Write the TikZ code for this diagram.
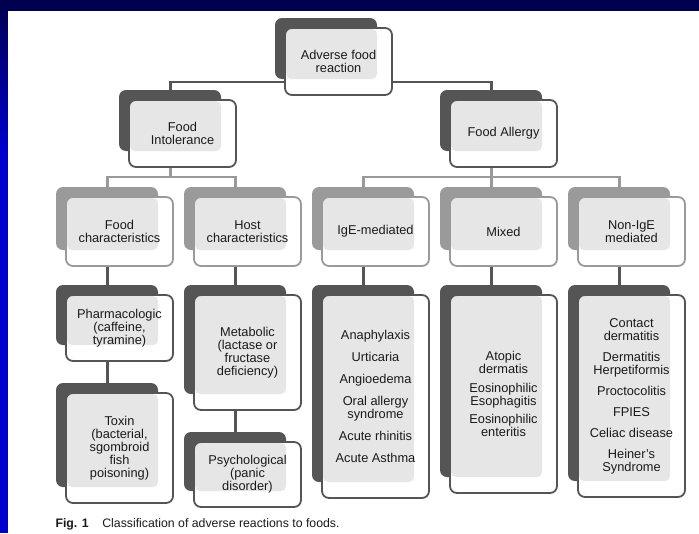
\documentclass[tikz,border=0pt]{standalone}
\usepackage{fontspec}
\setmainfont{Liberation Sans}
\usetikzlibrary{positioning, backgrounds}
\definecolor{slidetop}{HTML}{000050}
\definecolor{slidebottom}{HTML}{0000CC}
\definecolor{darkshade}{HTML}{555555}
\definecolor{midshade}{HTML}{9A9A9A}
\definecolor{panel}{HTML}{E6E6E6}
\definecolor{ink}{HTML}{1A1A1A}
\pgfdeclarelayer{slide}
\pgfdeclarelayer{links}
\pgfsetlayers{slide,links,background,main}
\tikzset{
  front/.style   = {rectangle, rounded corners=7pt, line width=1.8pt, fill=white,
                    minimum width=107pt, anchor=north west, outer sep=0pt,
                    inner sep=0pt, align=center, text=ink,
                    font=\fontsize{12.8}{13}\selectfont,
                    path picture={\fill[panel, rounded corners=5pt]
                      ([shift={(1pt,-1pt)}]path picture bounding box.north west) rectangle
                      ([shift={(-15pt,16pt)}]path picture bounding box.south east);}},
  toprow/.style  = {front, draw=darkshade},
  midrow/.style  = {front, draw=midshade},
  leaf/.style    = {front, draw=darkshade},
  link/.style    = {line width=2.6pt, draw=darkshade},
  sublink/.style = {line width=2.4pt, draw=midshade},
}

\begin{document}
\begin{tikzpicture}[x=1pt, y=-1pt]
\useasboundingbox (0,0) rectangle (699,533);

% Slide frame
\begin{pgfonlayer}{slide}
  \fill[slidebottom] (0,0) rectangle (699,533);
  \shade[top color=slidetop, bottom color=slidebottom] (0,0) rectangle (8,150);
  \fill[slidetop] (0,0) rectangle (699,11);
  \fill[white] (8,11) rectangle (699,533);
\end{pgfonlayer}

% Top of the tree
\node (afr) [toprow, minimum height=67pt] at (285,28) {Adverse food\\reaction};
\node (fi)  [toprow, minimum height=67pt] at (129,100) {Food\\Intolerance};
\node (fa)  [toprow, minimum height=67pt] at (450,100) {Food Allergy};

% Second level
\node (fc)     [midrow, minimum height=69pt] at (66,197) {Food\\characteristics};
\node (hc)     [midrow, minimum height=69pt, right=21pt of fc] {Host\\characteristics};
\node (ige)    [midrow, minimum height=69pt, right=21pt of hc] {IgE-mediated};
\node (mix)    [midrow, minimum height=69pt, right=21pt of ige] {Mixed};
\node (nonige) [midrow, minimum height=69pt, right=21pt of mix] {Non-IgE\\mediated};

% Intolerance leaves
\node (pharm) [leaf, minimum height=66pt, below=29pt of fc] {Pharmacologic\\(caffeine,\\tyramine)};
\node (toxin) [leaf, minimum height=110pt, below=32pt of pharm] {Toxin\\(bacterial,\\sgombroid\\fish\\poisoning)};
\node (metab) [leaf, minimum height=115pt, below=29pt of hc] {Metabolic\\(lactase or\\fructase\\deficiency)};
\node (psych) [leaf, minimum height=65pt, below=32pt of metab] {Psychological\\(panic\\disorder)};

% Allergy leaves
\node (igeleaf) [leaf, minimum height=203pt, below=29pt of ige] {Anaphylaxis\\[9pt]Urticaria\\[9pt]Angioedema\\[9pt]Oral allergy\\syndrome\\[9pt]Acute rhinitis\\[9pt]Acute Asthma};
\node (mixleaf) [leaf, minimum height=198pt, below=29pt of mix] {Atopic\\dermatis\\[6pt]Eosinophilic\\Esophagitis\\[5pt]Eosinophilic\\enteritis};
\node (nonleaf) [leaf, minimum height=202pt, below=29pt of nonige] {Contact\\dermatitis\\[8pt]Dermatitis\\Herpetiformis\\[8pt]Proctocolitis\\[8pt]FPIES\\[8pt]Celiac disease\\[8pt]Heiner’s\\Syndrome};

% Shadow plates behind every box
\begin{pgfonlayer}{background}
  \foreach \n/\c in {afr/darkshade, fi/darkshade, fa/darkshade,
                     fc/midshade, hc/midshade, ige/midshade, mix/midshade, nonige/midshade,
                     pharm/darkshade, toxin/darkshade, metab/darkshade, psych/darkshade,
                     igeleaf/darkshade, mixleaf/darkshade, nonleaf/darkshade}
    \fill[\c, rounded corners=7pt] ([shift={(-10pt,10pt)}]\n.north west) rectangle ([shift={(-15pt,16pt)}]\n.south east);
\end{pgfonlayer}

% Connectors
\begin{pgfonlayer}{links}
  \draw[link] ([xshift=-12pt]fi.north) |- ([yshift=13pt]afr.south) -| ([xshift=-12pt]fa.north);
  \draw[sublink] ([xshift=-12pt]fi.south) -- ++(0,-10pt) coordinate (fijoin);
  \draw[sublink] (fijoin) -| ([xshift=-12pt]fc.north);
  \draw[sublink] (fijoin) -| ([xshift=-12pt]hc.north);
  \draw[sublink] ([xshift=-12pt]fa.south) -- ([xshift=-12pt]mix.north);
  \draw[sublink] ([xshift=-12pt]fa.south) ++(0,-10pt) coordinate (fajoin);
  \draw[sublink] (fajoin) -| ([xshift=-12pt]ige.north);
  \draw[sublink] (fajoin) -| ([xshift=-12pt]nonige.north);
  \foreach \a/\b in {fc/pharm, pharm/toxin, hc/metab, metab/psych,
                     ige/igeleaf, mix/mixleaf, nonige/nonleaf}
    \draw[link] ([xshift=-12pt]\a.south) -- ([xshift=-12pt]\b.north);
\end{pgfonlayer}

% Caption
\node (caption) [anchor=base west, text=ink, font=\fontsize{12.3}{14}\selectfont] at (52,527)
  {\textbf{Fig. 1}\hspace{1.1em}Classification of adverse reactions to foods.};

\end{tikzpicture}
\end{document}
